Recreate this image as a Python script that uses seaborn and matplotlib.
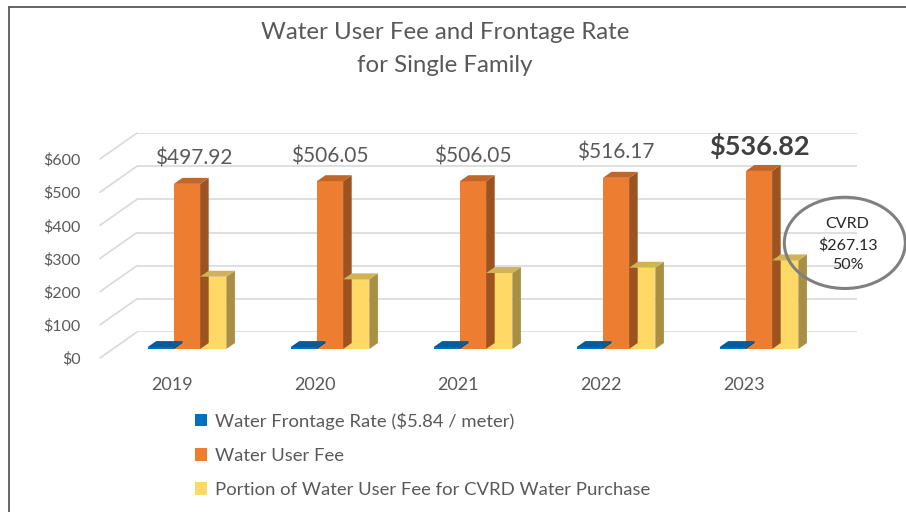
import numpy as np
import pandas as pd
import matplotlib
matplotlib.use("Agg")
import matplotlib.pyplot as plt
import matplotlib.transforms as mtransforms
import matplotlib.colors as mcolors
import seaborn as sns
from matplotlib.patches import Polygon, Ellipse
from matplotlib.lines import Line2D

# --- Datos ---
years = ["2019", "2020", "2021", "2022", "2023"]
frontage_rate = [5.84, 5.84, 5.84, 5.84, 5.84]
user_fee = [497.92, 506.05, 506.05, 516.17, 536.82]
cvrd_portion = [218, 210, 229, 245, 267.13]
series_names = ["Water Frontage Rate ($5.84 / meter)", "Water User Fee",
                "Portion of Water User Fee for CVRD Water Purchase"]
fee_labels = ["$497.92", "$506.05", "$506.05", "$516.17", "$536.82"]
yticks = [0, 100, 200, 300, 400, 500, 600]

# --- Estilo ---
colors = ["#0070C0", "#ED7D31", "#FFD966"]
grey = "#595959"
label_dx = [0.05, 0.0, 0.0, 0.0, 0.0]   # desplazamiento horizontal de las etiquetas

df = pd.DataFrame({
    "year": years * 3,
    "value": frontage_rate + user_fee + cvrd_portion,
    "series": [series_names[0]] * 5 + [series_names[1]] * 5 + [series_names[2]] * 5,
})

sns.set_theme(style="white")
plt.rcParams["font.family"] = ["Lato", "DejaVu Sans"]

W, H = 906, 512
fig = plt.figure(figsize=(W / 100, H / 100), dpi=100)

# pared del fondo (rejilla desplazada, efecto 3D)
depth_x, depth_y = 37, 17
wall = fig.add_axes([137 / W, 1 - (349 - depth_y) / H, (857 - 137) / W, 199 / H])
wall.set_ylim(0, 600)
wall.set_yticks(yticks)
wall.set_xticks([])
wall.tick_params(axis="y", labelleft=False, length=0)
wall.yaxis.grid(True, color="#d9d9d9", linewidth=1.2)
for s in wall.spines.values():
    s.set_visible(False)
wall.set_facecolor("none")

ax = fig.add_axes([100 / W, 1 - 349 / H, (857 - 100) / W, 199 / H])
ax.set_facecolor("none")
sns.barplot(data=df, x="year", y="value", hue="series", palette=colors,
            width=0.55, gap=0, ax=ax, legend=False, saturation=1, linewidth=0)

ax.set_xlim((100 - 187) / 143, (857 - 187) / 143)
ax.set_ylim(0, 600)
ax.set_xticks(np.arange(len(years)) - 0.105, years)
ax.set_yticks(yticks)
ax.set_yticklabels([f"${v}" for v in yticks], color=grey, fontsize=11.5)
ax.tick_params(axis="x", colors=grey, labelsize=13, pad=20, length=0)
ax.tick_params(axis="y", pad=14, length=0)
ax.set_xlabel("")
ax.set_ylabel("")
ax.grid(False)
for s in ax.spines.values():
    s.set_visible(False)

# etiquetas del eje y en el plano frontal (algo más abajo)
shift = mtransforms.ScaledTranslation(0, -9 / 100, fig.dpi_scale_trans)
for t in ax.get_yticklabels():
    t.set_transform(t.get_transform() + shift)

# líneas diagonales del suelo/lateral
for v in yticks:
    yf = 349 + 9 - v * 199 / 600
    fig.add_artist(Line2D([100 / W, 137 / W], [1 - yf / H, 1 - (yf - 26) / H],
                          color="#d9d9d9", lw=1.2))

# pseudo 3D: cara superior y lateral de cada barra
dx, dy = 0.06, 18
for p in list(ax.patches):
    x0, w, h = p.get_x(), p.get_width(), p.get_height()
    rgb = np.array(mcolors.to_rgb(p.get_facecolor()))
    side = Polygon([(x0 + w, 0), (x0 + w + dx, dy), (x0 + w + dx, h + dy), (x0 + w, h)],
                   closed=True, facecolor=tuple(rgb * 0.66), edgecolor="none", zorder=p.get_zorder())
    top = Polygon([(x0, h), (x0 + dx, h + dy), (x0 + w + dx, h + dy), (x0 + w, h)],
                  closed=True, facecolor=tuple(rgb * 0.82), edgecolor="none", zorder=p.get_zorder())
    ax.add_patch(side)
    ax.add_patch(top)

# etiquetas de la tarifa de usuario
for i, lab in enumerate(fee_labels):
    if i == len(fee_labels) - 1:
        ax.text(i + label_dx[i], user_fee[i] + 75, lab, ha="center", va="center",
                fontsize=19.5, fontweight="bold", color="#404040", clip_on=False)
    else:
        ax.text(i + label_dx[i], user_fee[i] + 75, lab, ha="center", va="center",
                fontsize=15, color=grey, clip_on=False)

# anotación CVRD
ell = Ellipse((4.60, 320), 0.846, 275, facecolor="none", edgecolor="#808080",
              linewidth=2.2, clip_on=False, zorder=5)
ax.add_patch(ell)
ax.text(4.62, 314, "CVRD\n$267.13\n50%", ha="center", va="center",
        fontsize=11.5, color="#262626", linespacing=1.55, clip_on=False, zorder=6)

# título
fig.text(0.491, 1 - 49 / H, "Water User Fee and Frontage Rate\nfor Single Family",
         ha="center", va="center", fontsize=17.3, color=grey, linespacing=1.7)

# leyenda
handles = [plt.Rectangle((0, 0), 1, 1, facecolor=c, edgecolor="none") for c in colors]
fig.legend(handles, series_names, loc="upper left", bbox_to_anchor=(186 / W, 1 - 403 / H),
           frameon=False, fontsize=13.3, labelcolor=grey, handlelength=0.65,
           handleheight=0.65, handletextpad=0.4, labelspacing=0.98, borderpad=0)

# marco del gráfico
fig.add_artist(Line2D([9 / W, 1], [1 - 7 / H, 1 - 7 / H], color="#595959", lw=1.3))
fig.add_artist(Line2D([9 / W, 9 / W], [0, 1 - 7 / H], color="#595959", lw=1.3))

fig.savefig("out.png", dpi=100)
